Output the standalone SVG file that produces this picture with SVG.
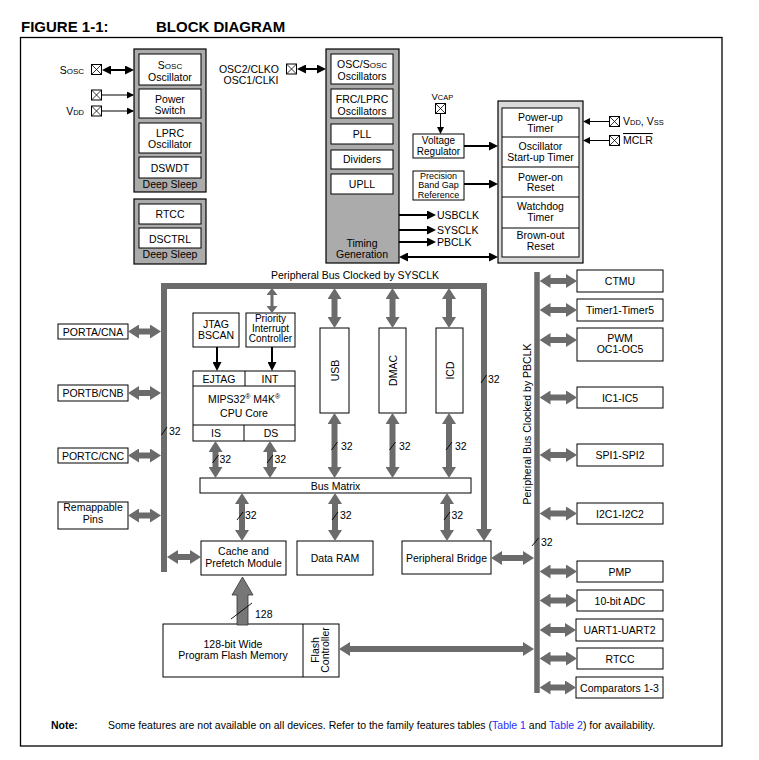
<svg xmlns="http://www.w3.org/2000/svg" xmlns:xlink="http://www.w3.org/1999/xlink" width="759" height="760" viewBox="0 0 759 760">
<style>
.t{font-family:"Liberation Sans",Arial,sans-serif;font-size:10.5px;fill:#000}
.s10{font-size:10px}
.c{text-anchor:middle}
.e{text-anchor:end}
.box{fill:#fff;stroke:#000;stroke-width:1}
.cont{fill:#ababab;stroke:#000;stroke-width:1.2}
.cont2{fill:#d9d9d9;stroke:#000;stroke-width:1.2}
.ga{stroke:#6b6b6b;stroke-width:6;fill:none;marker-start:url(#gh);marker-end:url(#gh)}
.bk{stroke:#000;stroke-width:2;fill:none;marker-end:url(#ah)}
.bk2{stroke:#000;stroke-width:2;fill:none;marker-start:url(#ah);marker-end:url(#ah)}
.th{stroke:#000;stroke-width:1;fill:none;marker-end:url(#as)}
.sl{stroke:#000;stroke-width:0.9}
.bus{stroke:#6b6b6b;fill:none}
</style>
<defs>
<marker id="gh" viewBox="0 0 11 14" refX="5" refY="7" markerWidth="11" markerHeight="14" markerUnits="userSpaceOnUse" orient="auto-start-reverse"><path d="M0,0 L11,7 L0,14 z" fill="#6b6b6b"/></marker>
<marker id="ghs" viewBox="0 0 7 11" refX="3" refY="5.5" markerWidth="7" markerHeight="11" markerUnits="userSpaceOnUse" orient="auto-start-reverse"><path d="M0,0 L7,5.5 L0,11 z" fill="#6b6b6b"/></marker>
<marker id="ah" viewBox="0 0 9 9" refX="7" refY="4.5" markerWidth="9" markerHeight="9" markerUnits="userSpaceOnUse" orient="auto-start-reverse"><path d="M0,0 L9,4.5 L0,9 z" fill="#000"/></marker>
<marker id="as" viewBox="0 0 7 7" refX="6" refY="3.5" markerWidth="7" markerHeight="7" markerUnits="userSpaceOnUse" orient="auto-start-reverse"><path d="M0,0 L7,3.5 L0,7 z" fill="#000"/></marker>
<g id="pin"><rect x="0.5" y="0.5" width="10" height="10" fill="#fff" stroke="#000" stroke-width="1"/><path d="M0.5,0.5 L10.5,10.5 M10.5,0.5 L0.5,10.5" stroke="#000" stroke-width="0.8"/></g>
</defs>
<rect width="759" height="760" fill="#fff"/>

<g id="title">
<text class="t" x="21" y="32" style="font-size:15px;font-weight:bold">FIGURE 1-1:</text>
<text class="t" x="156" y="32" style="font-size:15px;font-weight:bold">BLOCK DIAGRAM</text>
</g>
<rect id="frame" x="20.5" y="37.5" width="701.5" height="708.5" fill="none" stroke="#000" stroke-width="1.3"/>

<!-- Buses -->
<g id="buses">
<path class="bus" d="M164,572 V286 H484 V529" stroke-width="6"/>
<polygon points="476,529 492,529 484,541" fill="#6b6b6b"/>
<line class="bus" x1="537" y1="272" x2="537" y2="693" stroke-width="5.5"/>
<text class="t c" x="355" y="279">Peripheral Bus Clocked by SYSCLK</text>
<text class="t c" transform="translate(531,424) rotate(-90)" x="0" y="0">Peripheral Bus Clocked by PBCLK</text>
</g>

<!-- Left deep sleep group 1 -->
<g id="deep-sleep-1">
<rect class="cont" x="134" y="49" width="72" height="143"/>
<rect class="box" x="139" y="54" width="62" height="31"/>
<text class="t c" x="170" y="69">S<tspan font-size="8">OSC</tspan></text>
<text class="t c" x="170" y="81">Oscillator</text>
<rect class="box" x="139" y="89" width="62" height="29"/>
<text class="t c" x="170" y="102.5">Power</text>
<text class="t c" x="170" y="113.5">Switch</text>
<rect class="box" x="139" y="123" width="62" height="30"/>
<text class="t c" x="170" y="136.5">LPRC</text>
<text class="t c" x="170" y="147.5">Oscillator</text>
<rect class="box" x="139" y="157" width="62" height="21"/>
<text class="t c" x="170" y="172">DSWDT</text>
<text class="t c" x="170" y="187.5">Deep Sleep</text>
</g>
<g id="deep-sleep-2">
<rect class="cont" x="134" y="199" width="72" height="65"/>
<rect class="box" x="139" y="204" width="62" height="20"/>
<text class="t c" x="170" y="218">RTCC</text>
<rect class="box" x="139" y="228" width="62" height="20"/>
<text class="t c" x="170" y="242.5">DSCTRL</text>
<text class="t c" x="170" y="258">Deep Sleep</text>
</g>

<!-- Pins left -->
<g id="pin-sosc">
<use href="#pin" x="91" y="64"/>
<text class="t e" x="84" y="73.5">S<tspan font-size="8">OSC</tspan></text>
</g>
<g id="pin-ps"><use href="#pin" x="91" y="89.5"/></g>
<g id="pin-vdd">
<use href="#pin" x="91" y="105.5"/>
<text class="t e" x="84" y="115">V<tspan font-size="7.5">DD</tspan></text>
</g>

<!-- Oscillator column -->
<g id="osc-group">
<rect class="cont" x="326" y="49" width="73" height="214"/>
<rect class="box" x="331" y="54" width="62" height="30"/>
<text class="t c" x="362" y="68">OSC/S<tspan font-size="8">OSC</tspan></text>
<text class="t c" x="362" y="80">Oscillators</text>
<rect class="box" x="331" y="89" width="62" height="29"/>
<text class="t c" x="362" y="103">FRC/LPRC</text>
<text class="t c" x="362" y="114.5">Oscillators</text>
<rect class="box" x="331" y="124" width="62" height="20"/>
<text class="t c" x="362" y="137.5">PLL</text>
<rect class="box" x="331" y="150" width="62" height="19"/>
<text class="t c" x="362" y="163">Dividers</text>
<rect class="box" x="331" y="174" width="62" height="20"/>
<text class="t c" x="362" y="188">UPLL</text>
<text class="t c" x="362" y="246.5">Timing</text>
<text class="t c" x="362" y="258">Generation</text>
</g>
<g id="pin-osc">
<use href="#pin" x="286" y="63.5"/>
<text class="t c" x="249" y="73">OSC2/CLKO</text>
<text class="t c" x="251" y="84">OSC1/CLKI</text>
</g>
<g id="clk-labels">
<text class="t" x="437" y="219">USBCLK</text>
<text class="t" x="437" y="234">SYSCLK</text>
<text class="t" x="437" y="246">PBCLK</text>
</g>

<!-- VCAP / regulator -->
<g id="pin-vcap">
<text class="t" x="431.5" y="100" style="font-size:9.5px">V<tspan font-size="7.5">CAP</tspan></text>
<use href="#pin" x="435" y="103"/>
</g>
<g id="vreg">
<rect class="box" x="413" y="134" width="51" height="24"/>
<text class="t c s10" x="438.5" y="143.5">Voltage</text>
<text class="t c s10" x="438.5" y="154.5">Regulator</text>
</g>
<g id="bandgap">
<rect class="box" x="413" y="171" width="51" height="29"/>
<text class="t c" x="438.5" y="178.5" style="font-size:9px">Precision</text>
<text class="t c" x="438.5" y="188" style="font-size:9px">Band Gap</text>
<text class="t c" x="438.5" y="197.5" style="font-size:9px">Reference</text>
</g>

<!-- Reset group -->
<g id="reset-group">
<rect class="cont2" x="498" y="101" width="85" height="162"/>
<rect class="box" x="502" y="108" width="77" height="149"/>
<path d="M502,137 H579 M502,167 H579 M502,197 H579 M502,228 H579" stroke="#000" stroke-width="1"/>
<text class="t c" x="540.5" y="120.5">Power-up</text>
<text class="t c" x="540.5" y="131.5">Timer</text>
<text class="t c" x="540.5" y="150">Oscillator</text>
<text class="t c" x="540.5" y="161">Start-up Timer</text>
<text class="t c" x="540.5" y="180.5">Power-on</text>
<text class="t c" x="540.5" y="191">Reset</text>
<text class="t c" x="540.5" y="210">Watchdog</text>
<text class="t c" x="540.5" y="221">Timer</text>
<text class="t c" x="540.5" y="238.5">Brown-out</text>
<text class="t c" x="540.5" y="249.5">Reset</text>
</g>
<g id="pin-vddvss">
<use href="#pin" x="609" y="116"/>
<text class="t" x="623" y="125">V<tspan font-size="7.5">DD</tspan>, V<tspan font-size="7.5">SS</tspan></text>
</g>
<g id="pin-mclr">
<use href="#pin" x="609" y="135"/>
<text class="t" x="623" y="144" style="text-decoration:overline">MCLR</text>
</g>

<!-- Left ports -->
<g id="porta"><rect class="box" x="58" y="324" width="70" height="15"/><text class="t c" x="93" y="335.5">PORTA/CNA</text></g>
<g id="portb"><rect class="box" x="58" y="385" width="70" height="16"/><text class="t c" x="93" y="397">PORTB/CNB</text></g>
<g id="portc"><rect class="box" x="58" y="448" width="70" height="15"/><text class="t c" x="93" y="459.5">PORTC/CNC</text></g>
<g id="remap"><rect class="box" x="58" y="502" width="70" height="27"/><text class="t c" x="93" y="511">Remappable</text><text class="t c" x="93" y="522.5">Pins</text></g>

<!-- CPU area -->
<g id="jtag"><rect class="box" x="193" y="313" width="46" height="34"/><text class="t c" x="216" y="327.5">JTAG</text><text class="t c" x="216" y="338.5">BSCAN</text></g>
<g id="pic"><rect class="box" x="246" y="313" width="49" height="34"/><text class="t c s10" x="270.5" y="322">Priority</text><text class="t c s10" x="270.5" y="332">Interrupt</text><text class="t c s10" x="270.5" y="342">Controller</text></g>
<g id="cpu">
<rect class="box" x="193" y="371" width="102" height="70"/>
<path d="M193,386 H295 M245,371 V386 M193,425 H295 M244,425 V441" stroke="#000" stroke-width="1"/>
<text class="t c" x="219" y="383">EJTAG</text>
<text class="t c" x="270" y="383">INT</text>
<text class="t c" x="244" y="403">MIPS32<tspan font-size="7" dy="-4">®</tspan><tspan dy="4"> M4K</tspan><tspan font-size="7" dy="-4">®</tspan></text>
<text class="t c" x="244" y="416.5">CPU Core</text>
<text class="t c" x="216" y="437">IS</text>
<text class="t c" x="271" y="437">DS</text>
</g>
<g id="usb"><rect class="box" x="320" y="328" width="29" height="85"/><text class="t c" transform="translate(338.5,370.5) rotate(-90)" x="0" y="0">USB</text></g>
<g id="dmac"><rect class="box" x="379" y="328" width="27" height="85"/><text class="t c" transform="translate(396.5,370.5) rotate(-90)" x="0" y="0">DMAC</text></g>
<g id="icd"><rect class="box" x="436" y="328" width="27" height="85"/><text class="t c" transform="translate(453.5,370.5) rotate(-90)" x="0" y="0">ICD</text></g>
<g id="busmatrix"><rect class="box" x="200" y="478" width="271" height="15"/><text class="t c" x="335.5" y="489.5">Bus Matrix</text></g>
<g id="cache"><rect class="box" x="201" y="541" width="85" height="34"/><text class="t c" x="243.5" y="555">Cache and</text><text class="t c" x="243.5" y="566.5">Prefetch Module</text></g>
<g id="dataram"><rect class="box" x="297" y="541" width="76" height="34"/><text class="t c" x="335" y="562">Data RAM</text></g>
<g id="bridge"><rect class="box" x="402" y="541" width="89" height="33"/><text class="t c" x="446.5" y="561.5">Peripheral Bridge</text></g>
<g id="flash">
<rect class="box" x="163" y="624" width="176" height="53"/>
<line x1="303" y1="624" x2="303" y2="677" stroke="#000" stroke-width="1"/>
<text class="t c" x="233" y="648">128-bit Wide</text>
<text class="t c" x="233" y="659">Program Flash Memory</text>
<g transform="rotate(-90 321 650)"><text class="t c" x="321" y="648">Flash</text><text class="t c" x="321" y="658">Controller</text></g>
</g>

<!-- Right peripherals -->
<g id="ctmu"><rect class="box" x="577" y="270" width="86" height="22"/><text class="t c" x="620" y="285">CTMU</text></g>
<g id="timer"><rect class="box" x="577" y="299" width="86" height="22"/><text class="t c" x="620" y="314">Timer1-Timer5</text></g>
<g id="pwm"><rect class="box" x="577" y="328" width="86" height="33"/><text class="t c" x="620" y="342">PWM</text><text class="t c" x="620" y="352.5">OC1-OC5</text></g>
<g id="ic"><rect class="box" x="577" y="387" width="86" height="21"/><text class="t c" x="620" y="401.5">IC1-IC5</text></g>
<g id="spi"><rect class="box" x="577" y="444" width="86" height="22"/><text class="t c" x="620" y="459">SPI1-SPI2</text></g>
<g id="i2c"><rect class="box" x="577" y="503" width="86" height="21"/><text class="t c" x="620" y="517.5">I2C1-I2C2</text></g>
<g id="pmp"><rect class="box" x="577" y="561" width="86" height="21"/><text class="t c" x="620" y="575.5">PMP</text></g>
<g id="adc"><rect class="box" x="577" y="590" width="86" height="21"/><text class="t c" x="620" y="604.5">10-bit ADC</text></g>
<g id="uart"><rect class="box" x="576" y="619" width="87" height="22"/><text class="t c" x="619.5" y="634">UART1-UART2</text></g>
<g id="rtcc"><rect class="box" x="577" y="648" width="86" height="21"/><text class="t c" x="620" y="662.5">RTCC</text></g>
<g id="comp"><rect class="box" x="576" y="677" width="87" height="21"/><text class="t c" x="619.5" y="691.5">Comparators 1-3</text></g>

<!-- Connectors -->
<g id="connectors">
<line class="bk2" x1="104" y1="70" x2="132" y2="70"/>
<line class="th" x1="102" y1="95" x2="133" y2="95"/>
<line class="th" x1="102" y1="111" x2="133" y2="111"/>
<line class="bk2" x1="299" y1="69" x2="324" y2="69"/>
<line class="th" x1="440.5" y1="114" x2="440.5" y2="133"/>
<line class="bk" x1="464" y1="146" x2="496" y2="146"/>
<line class="bk" x1="464" y1="184" x2="496" y2="184"/>
<line class="bk" x1="399" y1="215" x2="434" y2="215"/>
<line class="bk" x1="399" y1="230" x2="434" y2="230"/>
<line class="bk" x1="399" y1="242" x2="434" y2="242"/>
<line class="bk2" x1="401" y1="257" x2="496" y2="257"/>
<line class="th" x1="609" y1="121.5" x2="584" y2="121.5"/>
<line class="th" x1="609" y1="140.5" x2="584" y2="140.5"/>
<line class="bk" x1="217" y1="347" x2="217" y2="369"/>
<line class="bk" x1="272" y1="347" x2="272" y2="369"/>

<line class="ga" x1="134" y1="331.5" x2="155" y2="331.5"/>
<line class="ga" x1="134" y1="393" x2="155" y2="393"/>
<line class="ga" x1="134" y1="455.5" x2="155" y2="455.5"/>
<line class="ga" x1="134" y1="515.5" x2="155" y2="515.5"/>
<line class="ga" x1="173" y1="557" x2="195" y2="557"/>
<line x1="272" y1="292" x2="272" y2="309" stroke="#6b6b6b" stroke-width="3" marker-start="url(#ghs)" marker-end="url(#ghs)"/>
<line class="ga" x1="334.5" y1="294" x2="334.5" y2="322"/>
<line class="ga" x1="392.5" y1="294" x2="392.5" y2="322"/>
<line class="ga" x1="449" y1="294" x2="449" y2="322"/>
<line class="ga" x1="334.5" y1="419" x2="334.5" y2="472"/>
<line class="ga" x1="392.5" y1="419" x2="392.5" y2="472"/>
<line class="ga" x1="449" y1="419" x2="449" y2="472"/>
<line class="ga" x1="215.5" y1="447" x2="215.5" y2="472"/>
<line class="ga" x1="270" y1="447" x2="270" y2="472"/>
<line class="ga" x1="242" y1="499" x2="242" y2="535"/>
<line class="ga" x1="335" y1="499" x2="335" y2="535"/>
<line class="ga" x1="447" y1="499" x2="447" y2="535"/>
<line class="ga" x1="497" y1="558" x2="528" y2="558"/>
<line class="ga" x1="345" y1="649" x2="528" y2="649"/>
<line class="ga" x1="545.5" y1="281" x2="571" y2="281"/>
<line class="ga" x1="545.5" y1="310" x2="571" y2="310"/>
<line class="ga" x1="545.5" y1="340" x2="571" y2="340"/>
<line class="ga" x1="545.5" y1="397.5" x2="571" y2="397.5"/>
<line class="ga" x1="545.5" y1="455" x2="571" y2="455"/>
<line class="ga" x1="545.5" y1="513.5" x2="571" y2="513.5"/>
<line class="ga" x1="545.5" y1="571.5" x2="571" y2="571.5"/>
<line class="ga" x1="545.5" y1="600.5" x2="571" y2="600.5"/>
<line class="ga" x1="545.5" y1="630" x2="570" y2="630"/>
<line class="ga" x1="545.5" y1="658.5" x2="571" y2="658.5"/>
<line class="ga" x1="545.5" y1="687.5" x2="570" y2="687.5"/>

<polygon points="237,625 237,595 232,595 242.5,577 253,595 248,595 248,625" fill="#777" stroke="#333" stroke-width="0.8"/>
<line class="sl" x1="231" y1="619" x2="252" y2="603"/>
<text class="t" x="255" y="618">128</text>

<g id="width-labels">
<line class="sl" x1="161.5" y1="435" x2="167" y2="427"/><text class="t" x="169" y="435">32</text>
<line class="sl" x1="481" y1="383" x2="486.5" y2="375"/><text class="t" x="488" y="382.5">32</text>
<line class="sl" x1="532" y1="546" x2="538.5" y2="538"/><text class="t" x="541" y="546">32</text>
<line class="sl" x1="331.5" y1="450" x2="337.5" y2="442"/><text class="t" x="341" y="449.5">32</text>
<line class="sl" x1="389.5" y1="450" x2="395.5" y2="442"/><text class="t" x="399" y="449.5">32</text>
<line class="sl" x1="446" y1="450" x2="452" y2="442"/><text class="t" x="455" y="449.5">32</text>
<line class="sl" x1="212.5" y1="463" x2="218.5" y2="455"/><text class="t" x="219.5" y="463">32</text>
<line class="sl" x1="267" y1="463" x2="273" y2="455"/><text class="t" x="274.5" y="463">32</text>
<line class="sl" x1="237" y1="520" x2="243" y2="512"/><text class="t" x="245" y="518.5">32</text>
<line class="sl" x1="332" y1="520" x2="338" y2="512"/><text class="t" x="340" y="518.5">32</text>
<line class="sl" x1="444" y1="520" x2="450" y2="512"/><text class="t" x="451.5" y="519">32</text>
</g>
</g>

<g id="note">
<text class="t" x="51" y="729" style="font-size:10.5px;font-weight:bold">Note:</text>
<text class="t" x="108" y="729" style="font-size:10.5px">Some features are not available on all devices. Refer to the family features tables (<tspan fill="#2b2bff">Table 1</tspan> and <tspan fill="#2b2bff">Table 2</tspan>) for availability.</text>
</g>
</svg>
